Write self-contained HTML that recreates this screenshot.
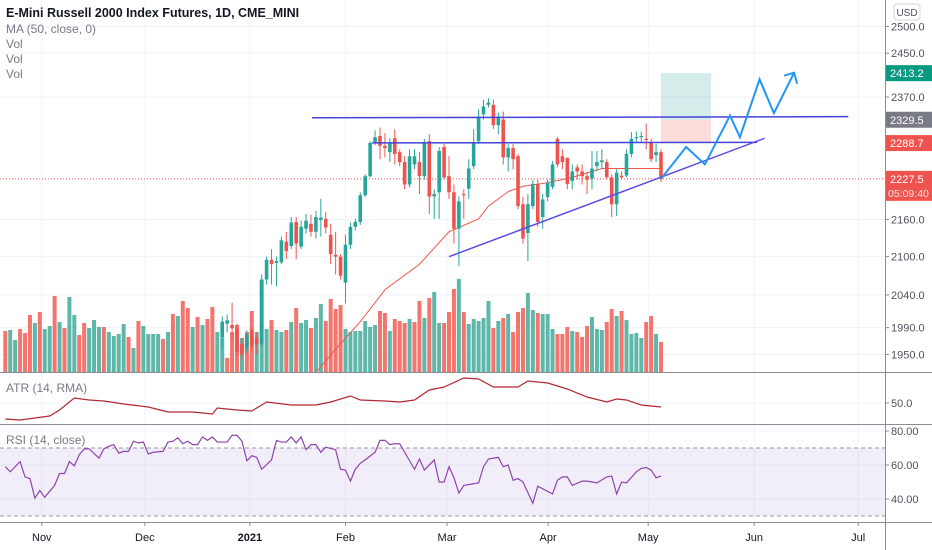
<!DOCTYPE html>
<html><head><meta charset="utf-8"><style>
html,body{margin:0;padding:0;background:#fff;}
svg{display:block;font-family:"Liberation Sans",sans-serif;}
</style></head><body>
<svg id="chart" width="932" height="550" viewBox="0 0 932 550" xmlns="http://www.w3.org/2000/svg">
<defs>
<clipPath id="mainClip"><rect x="0" y="0" width="885" height="372"/></clipPath>
<clipPath id="atrClip"><rect x="0" y="373" width="885" height="51"/></clipPath>
<clipPath id="rsiClip"><rect x="0" y="425" width="885" height="97"/></clipPath>
</defs>
<g id="grid"></g>
<g id="volumes" clip-path="url(#mainClip)"></g>
<g id="drawings-back" clip-path="url(#mainClip)"></g>
<g id="ma" clip-path="url(#mainClip)"></g>
<g id="candles" clip-path="url(#mainClip)"></g>
<g id="drawings" clip-path="url(#mainClip)"></g>
<g id="atr" clip-path="url(#atrClip)"></g>
<g id="rsi" clip-path="url(#rsiClip)"></g>
<g id="axes"></g>
<g id="legend">
<text x="6" y="17" font-size="12.5" font-weight="bold" fill="#131722">E-Mini Russell 2000 Index Futures, 1D, CME_MINI</text>
<text x="6" y="33" font-size="12" fill="#787b86">MA (50, close, 0)</text>
<text x="6" y="48" font-size="12" fill="#787b86">Vol</text>
<text x="6" y="63" font-size="12" fill="#787b86">Vol</text>
<text x="6" y="78" font-size="12" fill="#787b86">Vol</text>
<text x="6" y="392" font-size="12" fill="#787b86">ATR (14, RMA)</text>
<text x="6" y="444" font-size="12" fill="#787b86">RSI (14, close)</text>
</g>
</svg>
<script>
const candleStart = 44;
const opens = [1975,1996,1994,1989,1966,1959,1986,1975,1966,2064,2095,2090,2091,2124,2117,2156,2116,2145,2153,2140,2159,2161,2135,2103,2100,2059,2119,2148,2156,2200,2232,2290,2301,2284,2273,2297,2273,2256,2218,2252,2256,2232,2292,2198,2205,2282,2232,2205,2145,2202,2211,2249,2292,2339,2356,2356,2320,2330,2264,2280,2266,2185,2138,2182,2219,2164,2197,2214,2296,2266,2263,2224,2247,2240,2232,2228,2249,2256,2256,2230,2185,2233,2233,2270,2297,2299,2296,2290,2268,2273];
const highs = [2007,2010,2028,1996,1975,1986,1990,1983,2072,2100,2112,2100,2132,2140,2164,2164,2158,2169,2168,2174,2194,2172,2153,2140,2104,2135,2155,2161,2205,2235,2292,2311,2316,2306,2297,2313,2278,2266,2278,2278,2273,2296,2304,2210,2282,2287,2266,2218,2198,2210,2261,2313,2348,2365,2368,2365,2342,2344,2287,2287,2270,2197,2202,2226,2226,2202,2226,2258,2299,2278,2264,2252,2252,2252,2240,2275,2275,2278,2261,2235,2244,2240,2278,2308,2309,2309,2323,2296,2287,2278];
const lows = [1959,1983,1972,1947,1942,1951,1955,1951,1962,2056,2056,2053,2088,2096,2112,2096,2112,2137,2132,2129,2132,2137,2088,2072,2064,2027,2112,2142,2151,2197,2230,2285,2261,2264,2256,2252,2249,2210,2213,2244,2202,2226,2169,2161,2161,2226,2194,2121,2085,2161,2194,2244,2287,2330,2351,2313,2304,2252,2240,2244,2177,2121,2093,2177,2148,2145,2190,2210,2247,2244,2210,2210,2226,2218,2202,2210,2240,2244,2226,2164,2166,2226,2230,2264,2290,2290,2278,2256,2256,2222];
const closes = [1999,2001,1989,1954,1950,1980,1962,1965,2064,2095,2088,2093,2126,2109,2155,2121,2148,2158,2140,2164,2163,2147,2104,2100,2070,2119,2148,2156,2200,2232,2289,2299,2284,2280,2290,2270,2256,2218,2266,2266,2232,2289,2198,2202,2275,2230,2205,2145,2190,2200,2245,2289,2335,2353,2360,2320,2335,2264,2280,2261,2182,2129,2185,2219,2156,2193,2221,2252,2252,2256,2219,2240,2240,2232,2226,2245,2256,2259,2230,2185,2238,2230,2270,2296,2299,2301,2294,2261,2273,2227.5];
const volumes = [41,42,32,43,39,57,49,60,43,46,76,50,44,75,57,37,49,44,52,45,45,40,36,38,48,35,24,51,46,38,38,38,33,40,58,56,71,64,45,55,47,53,65,40,34,14,40,47,34,40,61,40,92,43,52,42,40,42,50,64,49,52,44,54,68,51,73,63,67,43,40,
41,41,51,45,47,61,59,41,53,51,49,53,50,71,54,74,80,49,49,60,83,93,60,48,53,51,54,71,44,51,54,58,40,60,64,79,62,59,58,58,43,38,38,45,41,40,35,46,55,43,42,50,63,56,61,52,38,39,34,50,56,38,30];
const volumeUp = [0,1,1,0,0,0,1,0,1,1,0,1,0,1,1,0,0,1,1,1,0,1,1,1,1,0,1,0,1,1,1,1,0,1,0,1,0,0,1,0,1,0,0,1,1,0,0,0,1,0,0,1,1,1,0,1,1,0,1,0,1,1,0,1,1,0,0,0,0,1,1,
1,1,1,1,1,0,0,1,0,0,0,1,0,0,1,0,1,1,0,0,0,1,0,1,1,1,1,1,0,1,0,1,0,0,0,1,1,0,1,1,1,0,0,0,1,0,0,0,1,1,1,0,0,1,0,1,1,1,1,0,0,1,0];
const maIdx = [62,67,72,77,84,90,96,98,102,105,110,115,121,126,133];
const maVal = [1915,1958,1999,2048,2088,2140,2161,2182,2206,2215,2221,2230,2245,2245,2245];
const atrIdx = [0,3,9,11,14,17,20,24,29,33,38,42,43,47,50,53,58,63,66,70,72,77,80,83,86,89,93,96,99,104,106,110,114,118,122,124,126,129,133];
const atrVal = [42,41.5,43.5,46.5,52.5,51.5,51,49.5,48,45.5,45.5,44.5,47.5,46.5,46,50.5,49,49,50.5,53.5,51.5,51,50.5,51.5,56.5,58,62.5,62,58,58,61,60,57,53,50.5,52,51.5,49,48];
const rsiIdx = [0,1,3,4,5,6,7,8,10,11,12,13,14,15,16,17,19,20,21,22,23,24,25,26,27,28,29,30,32,33,34,35,36,37,38,39,40,41,42,43,45,46,47,48,49,50,51,52,54,55,56,57,58,59,60,61,62,63,64,65,67,68,69,70,71,72,73,75,76,77,78,79,80,81,83,84,85,87,88,89,90,91,92,93,96,97,98,100,101,102,103,104,105,107,108,111,112,113,114,115,117,118,120,122,123,124,125,126,128,129,130,131,132,133];
const rsiVal = [59,56,62,53,52,40.5,45,41,48,55,55,62,59.5,66,69.5,69.5,64,69.5,71,72,67,68,68,74,73,73.5,66.5,67.5,68,73.5,74,76,72.5,74,72,72,76.5,74.5,76.5,73.5,73.5,77.5,77.5,74,62.5,65.5,64.5,57.5,63,74.5,73.5,73.5,76.5,73,76.5,69,72,72,67.5,70.5,69,57.5,57,50.5,57.5,61,63,67.5,74.5,74.5,72,72.5,72.5,67.5,57.5,63.5,57,63,50,50,59,52.5,43.5,48,49.5,59,63.5,64.5,59,60,51,52,50,37.5,47.5,43,51,53,53,48,50.5,50.5,49.5,53,53.5,43,50,49.5,56,58,58.5,57,52.5,53.5,46.5];
const priceTicks = [2500,2450,2370,2160,2100,2040,1990,1950];
const monthLabels = ["Nov","Dec","2021","Feb","Mar","Apr","May","Jun","Jul"];
const monthIdx = [7.4,28.3,49.6,69,89.6,110.1,130.4,151.9,173];
const upperResistance = [2333,2335];
const midResistance = [2289,2290];
const trendlineIdx = [90,154];
const trendlineVal = [2100,2297];
const forecastIdx = [133,138.1,141.9,147,149,153,155.9,160];
const forecastVal = [2227.5,2282,2252,2337,2299,2402,2341,2414];
const lastPrice = 2227.5;

const NS = "http://www.w3.org/2000/svg";
const step = 4.93;
function xOf(i){ return 661 - (133 - i) * step; }
function yPrice(p){ return 97 - 1320 * Math.log(p / 2370); }
function yVol(v){ return 372 - v; }
function yAtr(v){ return 403 - (v - 50) * 2; }
function yRsi(v){ return 465 - (v - 60) * 1.7; }
function mk(tag, attrs, parent){ const e = document.createElementNS(NS, tag); for (const k in attrs) e.setAttribute(k, attrs[k]); parent.appendChild(e); return e; }
const UP = "#26a69a", DN = "#ef5350";

const grid = document.getElementById("grid");
priceTicks.forEach(t => { const l = mk("line", {x1:0, x2:885, y1:yPrice(t), y2:yPrice(t), stroke:"#f0f3fa", "stroke-width":1}, grid);

 });
monthIdx.forEach(i => { const l = mk("line", {x1:xOf(i), x2:xOf(i), y1:0, y2:522, stroke:"#f0f3fa", "stroke-width":1}, grid);

 });
[403].forEach(y => { const l = mk("line", {x1:0, x2:885, y1:y, y2:y, stroke:"#f0f3fa"}, grid);

 });
[80,60,40].forEach(v => { const l = mk("line", {x1:0, x2:885, y1:yRsi(v), y2:yRsi(v), stroke:"#f0f3fa"}, grid);

 });

const vg = document.getElementById("volumes");
volumes.forEach((v, i) => { const x = xOf(i);
const r = mk("rect", {x:x-2, y:yVol(v), width:4, height:372-yVol(v), fill: volumeUp[i] ? "#4caf9f" : "#f2665d", opacity:0.9}, vg);

 });

const db = document.getElementById("drawings-back");
const tp = mk("rect", {x:xOf(133), y:yPrice(2413.2), width:50, height:yPrice(2329.5)-yPrice(2413.2), fill:"rgba(38,166,154,0.2)"}, db);


const sl = mk("rect", {x:xOf(133), y:yPrice(2329.5), width:50, height:yPrice(2288.7)-yPrice(2329.5), fill:"rgba(239,83,80,0.2)"}, db);


const pl = mk("line", {x1:0, x2:885, y1:yPrice(lastPrice), y2:yPrice(lastPrice), stroke:DN, "stroke-width":1, "stroke-dasharray":"1,2"}, db);



const mg = document.getElementById("ma");
const maPath = mk("polyline", {points: maIdx.map((i,k)=>xOf(i)+","+yPrice(maVal[k])).join(" "), fill:"none", stroke:"#f0584c", "stroke-width":1}, mg);



const cg = document.getElementById("candles");
closes.forEach((c, k) => { const i = candleStart + k, x = xOf(i), o = opens[k];
const col = c >= o ? UP : DN;
const w = mk("line", {x1:x, x2:x, y1:yPrice(highs[k]), y2:yPrice(lows[k]), stroke:col, "stroke-width":1}, cg);


const top = Math.min(yPrice(o), yPrice(c)), h = Math.max(1, Math.abs(yPrice(o) - yPrice(c)));
const b = mk("rect", {x:x-1.8, y:top, width:3.6, height:h, fill:col}, cg);

 });

const dg = document.getElementById("drawings");
const up = mk("line", {x1:xOf(62.2), x2:xOf(171), y1:yPrice(upperResistance[0]), y2:yPrice(upperResistance[1]), stroke:"#4343d8", "stroke-width":1.5}, dg);


const md = mk("line", {x1:xOf(74.4), x2:xOf(152.5), y1:yPrice(midResistance[0]), y2:yPrice(midResistance[1]), stroke:"#4343d8", "stroke-width":1.5}, dg);


const tl = mk("line", {x1:xOf(trendlineIdx[0]), x2:xOf(trendlineIdx[1]), y1:yPrice(trendlineVal[0]), y2:yPrice(trendlineVal[1]), stroke:"#5a4ee6", "stroke-width":1.5}, dg);


const fp = mk("polyline", {points: forecastIdx.map((i,k)=>xOf(i)+","+yPrice(forecastVal[k])).join(" "), fill:"none", stroke:"#2196f3", "stroke-width":2, "stroke-linejoin":"miter"}, dg);


const ex = xOf(forecastIdx[7]), ey = yPrice(forecastVal[7]);
const ah = mk("polyline", {points:(ex-10)+","+(ey+3)+" "+ex+","+ey+" "+(ex+3)+","+(ey+11), fill:"none", stroke:"#2196f3", "stroke-width":2}, dg);



const ag = document.getElementById("atr");
const atrL = mk("polyline", {points: atrIdx.map((i,k)=>xOf(i)+","+yAtr(atrVal[k])).join(" "), fill:"none", stroke:"#b22833", "stroke-width":1.2}, ag);



const rg = document.getElementById("rsi");
const band = mk("rect", {x:0, y:yRsi(70), width:885, height:yRsi(30)-yRsi(70), fill:"rgba(126,87,194,0.1)"}, rg);


[70,30].forEach(v => { const l = mk("line", {x1:0, x2:885, y1:yRsi(v), y2:yRsi(v), stroke:"#9598a1", "stroke-dasharray":"4,3", "stroke-width":1}, rg);

 });
const rsiL = mk("polyline", {points: rsiIdx.map((i,k)=>xOf(i)+","+yRsi(rsiVal[k])).join(" "), fill:"none", stroke:"#8e44ad", "stroke-width":1.2}, rg);



const ax = document.getElementById("axes");
mk("line", {x1:0, x2:932, y1:372.5, y2:372.5, stroke:"#8a8d96", "stroke-width":1}, ax);
mk("line", {x1:0, x2:932, y1:424.5, y2:424.5, stroke:"#8a8d96", "stroke-width":1}, ax);
mk("line", {x1:0, x2:932, y1:522.5, y2:522.5, stroke:"#8a8d96", "stroke-width":1}, ax);
mk("line", {x1:885.5, x2:885.5, y1:0, y2:550, stroke:"#8a8d96", "stroke-width":1}, ax);
function axisLabel(y, txt, name){ mk("line", {x1:885, x2:889, y1:y, y2:y, stroke:"#8a8d96"}, ax);
const t = mk("text", {x:891, y:y+4, "font-size":11, fill:"#50535e"}, ax); t.textContent = txt;

 }
priceTicks.forEach(p => axisLabel(yPrice(p), p.toFixed(1), 'price-tick-label'));
axisLabel(403, "50.0", 'atr-tick-label');
[80,60,40].forEach(v => axisLabel(yRsi(v), v.toFixed(2), 'rsi-tick-label'));
const usd = mk("rect", {x:894, y:4, width:26, height:16, rx:3, fill:"#fff", stroke:"#d1d4dc"}, ax);


const ut = mk("text", {x:907, y:16, "font-size":10, fill:"#50535e", "text-anchor":"middle"}, ax); ut.textContent = "USD";


function badge(p, txt, col, name){ const y = yPrice(p);
const r = mk("rect", {x:886, y:y-8, width:46, height:16, fill:col}, ax);


const t = mk("text", {x:890, y:y+4, "font-size":11, fill:"#fff"}, ax); t.textContent = txt;

 }
badge(2413.2, "2413.2", "#089981", 'target-price-badge');
badge(2329.5, "2329.5", "#787b86", 'entry-price-badge');
badge(2288.7, "2288.7", "#ef5350", 'stop-price-badge');
const ly = yPrice(lastPrice);
const lb = mk("rect", {x:886, y:ly-8, width:46, height:30, fill:"#ef5350"}, ax);


const lt = mk("text", {x:890, y:ly+4, "font-size":11, fill:"#fff"}, ax); lt.textContent = "2227.5";


const ct = mk("text", {x:888, y:ly+18, "font-size":10.5, fill:"#fde0df"}, ax); ct.textContent = "05:09:40";


monthLabels.forEach((m, k) => { const x = xOf(monthIdx[k]);
mk("line", {x1:x, x2:x, y1:522, y2:526, stroke:"#8a8d96"}, ax);
const t = mk("text", {x:x, y:541, "font-size":11, fill:"#131722", "text-anchor":"middle", "font-weight": m === "2021" ? "bold" : "normal"}, ax); t.textContent = m;

 });
</script>
</body></html>
